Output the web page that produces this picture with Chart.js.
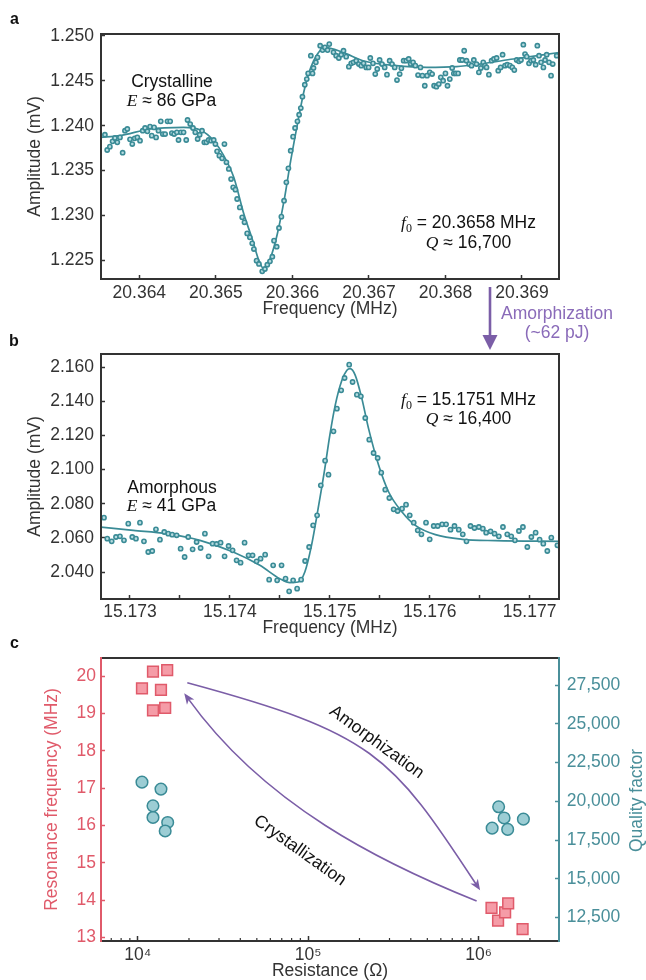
<!DOCTYPE html>
<html>
<head>
<meta charset="utf-8">
<script src="https://cdn.jsdelivr.net/npm/chart.js@4.4.1/dist/chart.umd.min.js"></script>
<style>
  body { margin: 0; background: #fff; }
  #wrap { position: relative; width: 646px; height: 980px; overflow: hidden; font-family: "Liberation Sans", Arial, sans-serif; }
  canvas { position: absolute; left: 0; }
  .tag { position: absolute; font-weight: bold; font-size: 16px; line-height: 16px; color: #111; }
  .step-label { position: absolute; left: 480px; width: 154px; text-align: center; font-size: 17.5px; line-height: 21px; color: #8a6bb9; }
  #step { position: absolute; left: 0; top: 0; pointer-events: none; }
</style>
</head>
<body>
<div id="wrap">
  <canvas id="chartA" width="646" height="320" style="top:0"></canvas>
  <canvas id="chartB" width="646" height="320" style="top:320px"></canvas>
  <canvas id="chartC" width="646" height="340" style="top:640px"></canvas>
  <svg id="step" width="646" height="980">
    <line x1="490" y1="287" x2="490" y2="338" stroke="#7b5ea7" stroke-width="2.6"/>
    <polygon points="482.5,335 497.5,335 490,350" fill="#7b5ea7"/>
  </svg>
  <div class="step-label" style="top:303.4px">Amorphization</div>
  <div class="step-label" style="top:321.7px">(~62 pJ)</div>
  <div class="tag" style="left:10px;top:10.5px">a</div>
  <div class="tag" style="left:9px;top:332.5px">b</div>
  <div class="tag" style="left:10px;top:634.5px">c</div>
</div>
<script>
// panel a: crystalline state, resonance dip
const aFreq = [
  20.363550, 20.363580, 20.363615, 20.363650, 20.363681, 20.363712, 20.363747, 20.363782, 20.363812, 20.363843,
  20.363878, 20.363908, 20.363939, 20.363974, 20.364009, 20.364044, 20.364075, 20.364105, 20.364140, 20.364162,
  20.364193, 20.364219, 20.364250, 20.364280, 20.364307, 20.364337, 20.364368, 20.364403, 20.364425, 20.364455,
  20.364490, 20.364512, 20.364543, 20.364578, 20.364613, 20.364630, 20.364665, 20.364701, 20.364731, 20.364762,
  20.364788, 20.364819, 20.364849, 20.364876, 20.364906, 20.364937, 20.364972, 20.364994, 20.365016, 20.365046,
  20.365081, 20.365112, 20.365138, 20.365169, 20.365199, 20.365226, 20.365256, 20.365278, 20.365313, 20.365344,
  20.365374, 20.365409, 20.365444, 20.365475, 20.365497, 20.365532, 20.365563, 20.365606, 20.365641, 20.365672,
  20.365707, 20.365738, 20.365760, 20.365795, 20.365825, 20.365856, 20.365891, 20.365921, 20.365948, 20.365978,
  20.366009, 20.366035, 20.366066, 20.366088, 20.366110, 20.366131, 20.366162, 20.366188, 20.366206, 20.366241,
  20.366263, 20.366276, 20.366307, 20.366328, 20.366363, 20.366394, 20.366425, 20.366460, 20.366482,
  20.366537, 20.366572, 20.366607, 20.366638, 20.366668, 20.366703, 20.366738, 20.366769, 20.366799, 20.366834,
  20.366869, 20.366900, 20.366930, 20.366965, 20.366996, 20.367018, 20.367053, 20.367083, 20.367109, 20.367140,
  20.367171, 20.367206, 20.367236, 20.367271, 20.367302, 20.367337, 20.367367, 20.367402, 20.367424, 20.367454,
  20.367489, 20.367520, 20.367546, 20.367577, 20.367607, 20.367642, 20.367673, 20.367699, 20.367730, 20.367760,
  20.367795, 20.367826, 20.367852, 20.367882, 20.367913, 20.367939, 20.367970, 20.368000, 20.368027, 20.368057,
  20.368088, 20.368110, 20.368136, 20.368166, 20.368188, 20.368219, 20.368245, 20.368275, 20.368310, 20.368341,
  20.368371, 20.368406, 20.368437, 20.368463, 20.368494, 20.368516, 20.368537, 20.368568, 20.368603, 20.368634,
  20.368669, 20.368690, 20.368721, 20.368747, 20.368778, 20.368808, 20.368843, 20.368874, 20.368900, 20.368931,
  20.368961, 20.368987, 20.369018, 20.369040, 20.369062, 20.369092, 20.369118, 20.369149, 20.369179, 20.369201,
  20.369223, 20.369249, 20.369280, 20.369302, 20.369323, 20.369354, 20.369380, 20.369402, 20.369454
];
const aAmp = [
  1.23900, 1.23730, 1.23767, 1.23826, 1.23863, 1.23815, 1.23870, 1.23700, 1.23944, 1.23963,
  1.23848, 1.23796, 1.23859, 1.23870, 1.23833, 1.23944, 1.23974, 1.23937, 1.23989, 1.23889,
  1.23981, 1.23870, 1.23944, 1.24048, 1.23907, 1.23907, 1.24048, 1.24048, 1.23918, 1.23907,
  1.23926, 1.23841, 1.23926, 1.23926, 1.23841, 1.24063, 1.24018, 1.23974, 1.23926, 1.23852,
  1.23899, 1.23944, 1.23815, 1.23815, 1.23841, 1.23833, 1.23841, 1.23796, 1.23715, 1.23667,
  1.23637, 1.23796, 1.23593, 1.23519, 1.23407, 1.23315, 1.23289, 1.23185, 1.23092, 1.22981,
  1.22926, 1.22803, 1.22759, 1.22692, 1.22629, 1.22500, 1.22463, 1.22381, 1.22407, 1.22455,
  1.22492, 1.22544, 1.22722, 1.22655, 1.22863, 1.22989, 1.23166, 1.23370, 1.23526, 1.23722,
  1.23878, 1.23974, 1.24048, 1.24122, 1.24196, 1.24322, 1.24455, 1.24518, 1.24581, 1.24778,
  1.24581, 1.24641, 1.24704, 1.24759, 1.24889, 1.24840, 1.24870, 1.24840, 1.24907,
  1.24815, 1.24778, 1.24752, 1.24789, 1.24833, 1.24767, 1.24656, 1.24693, 1.24704, 1.24722,
  1.24685, 1.24667, 1.24693, 1.24648, 1.24648, 1.24752, 1.24693, 1.24574, 1.24630, 1.24730,
  1.24685, 1.24648, 1.24567, 1.24722, 1.24685, 1.24648, 1.24507, 1.24574, 1.24637, 1.24722,
  1.24722, 1.24741, 1.24685, 1.24704, 1.24667, 1.24563, 1.24648, 1.24556, 1.24444, 1.24556,
  1.24593, 1.24574, 1.24444, 1.24433, 1.24463, 1.24537, 1.24500, 1.24581, 1.24444, 1.24518,
  1.24641, 1.24581, 1.24581, 1.24581, 1.24730, 1.24730, 1.24833, 1.24722, 1.24685, 1.24667,
  1.24730, 1.24685, 1.24593, 1.24641, 1.24704, 1.24667, 1.24648, 1.24567, 1.24722, 1.24741,
  1.24752, 1.24611, 1.24648, 1.24789, 1.24667, 1.24678, 1.24667, 1.24648, 1.24618, 1.24730,
  1.24715, 1.24730, 1.24900, 1.24796, 1.24767, 1.24693, 1.24722, 1.24730, 1.24678, 1.24889,
  1.24778, 1.24704, 1.24648, 1.24730, 1.24789, 1.24704, 1.24556, 1.24685, 1.24778
];
const aFitFreq = [
  20.363484, 20.363747, 20.364140, 20.364578, 20.364797, 20.364972, 20.365103, 20.365234, 20.365366, 20.365475,
  20.365563, 20.365628, 20.365716, 20.365803, 20.365891, 20.365978, 20.366066, 20.366153, 20.366241, 20.366328,
  20.366416, 20.366660, 20.366922, 20.367358, 20.367751, 20.368144, 20.368450, 20.368887, 20.369498
];
const aFitAmp = [
  1.23870, 1.23889, 1.23963, 1.23981, 1.23952, 1.23833, 1.23667, 1.23426, 1.23018, 1.22741,
  1.22500, 1.22407, 1.22537, 1.22796, 1.23166, 1.23611, 1.24018, 1.24389, 1.24648, 1.24796,
  1.24870, 1.24815, 1.24722, 1.24667, 1.24648, 1.24656, 1.24685, 1.24741, 1.24815
];
const aTicksX = [20.364, 20.365, 20.366, 20.367, 20.368, 20.369];
const aTicksY = [1.225, 1.230, 1.235, 1.240, 1.245, 1.250];

// panel b: amorphous state, resonance peak
const bFreq = [
  15.172740, 15.172773, 15.172817, 15.172860, 15.172900, 15.172940, 15.172983, 15.173023, 15.173060, 15.173100,
  15.173140, 15.173183, 15.173223, 15.173260, 15.173300, 15.173343, 15.173383, 15.173423, 15.173467, 15.173507,
  15.173547, 15.173583, 15.173627, 15.173667, 15.173707, 15.173750, 15.173787, 15.173827, 15.173867, 15.173907,
  15.173947, 15.173987, 15.174027, 15.174067, 15.174107, 15.174147, 15.174187, 15.174227, 15.174267, 15.174307,
  15.174353, 15.174393, 15.174433, 15.174473, 15.174517, 15.174557, 15.174593, 15.174633, 15.174673, 15.174713,
  15.174753, 15.174793, 15.174833, 15.174873, 15.174910, 15.174953, 15.174987,
  15.175037, 15.175071, 15.175114, 15.175148, 15.175194, 15.175228, 15.175271, 15.175311, 15.175355, 15.175395,
  15.175438, 15.175479, 15.175515, 15.175555, 15.175596, 15.175639, 15.175679, 15.175723, 15.175763, 15.175800,
  15.175840, 15.175880, 15.175917, 15.175963, 15.176000, 15.176040, 15.176080, 15.176124, 15.176164, 15.176208,
  15.176248, 15.176291, 15.176331, 15.176368, 15.176408, 15.176448, 15.176492, 15.176532, 15.176565, 15.176609,
  15.176649, 15.176692, 15.176733, 15.176776, 15.176816, 15.176853, 15.176893, 15.176933, 15.176977, 15.177017,
  15.177060, 15.177100, 15.177137, 15.177177, 15.177217, 15.177278
];
const bAmp = [
  2.07182, 2.05952, 2.05796, 2.06050, 2.06089, 2.05855, 2.06830, 2.06050, 2.05952, 2.06889,
  2.05796, 2.05172, 2.05230, 2.06499, 2.05894, 2.06343, 2.06245, 2.06187, 2.06148, 2.05367,
  2.04879, 2.06050, 2.05328, 2.05757, 2.05406, 2.06245, 2.04918, 2.05660, 2.05640, 2.05718,
  2.04918, 2.05523, 2.05269, 2.04684, 2.04548, 2.05718, 2.04977, 2.04977, 2.04626, 2.04782,
  2.05016, 2.03553, 2.04392, 2.03514, 2.04392, 2.03611, 2.02870, 2.03514, 2.03026, 2.03553,
  2.04645, 2.05465, 2.06733, 2.07318, 2.09074, 2.10518, 2.09698,
  2.12235, 2.13561, 2.14634, 2.15356, 2.16137, 2.15122, 2.14381, 2.14283, 2.13015, 2.11747,
  2.10966, 2.10674, 2.09815, 2.08821, 2.08333, 2.07669, 2.07572, 2.07708, 2.07942, 2.07318,
  2.06889, 2.06440, 2.06206, 2.06889, 2.05913, 2.06694, 2.06694, 2.06791, 2.06791, 2.06479,
  2.06694, 2.06479, 2.06206, 2.05796, 2.06694, 2.06577, 2.06635, 2.06538, 2.06304, 2.06382,
  2.06245, 2.06089, 2.06635, 2.06206, 2.06089, 2.05855, 2.06401, 2.06635, 2.05465, 2.06050,
  2.06304, 2.05894, 2.05660, 2.05230, 2.06011, 2.05562
];
const bFitFreq = [
  15.172700, 15.173033, 15.173367, 15.173700, 15.174033, 15.174300, 15.174500, 15.174600, 15.174683, 15.174750,
  15.174817, 15.174883, 15.174950, 15.175000, 15.175054, 15.175121, 15.175171, 15.175204, 15.175255, 15.175321,
  15.175388, 15.175489, 15.175589, 15.175723, 15.175856, 15.176057, 15.176325, 15.176659, 15.177300
];
const bFitAmp = [
  2.06635, 2.06440, 2.06245, 2.05855, 2.05172, 2.04392, 2.03611, 2.03377, 2.03416, 2.04001,
  2.05562, 2.07708, 2.10050, 2.11999, 2.13756, 2.15220, 2.15805, 2.15903, 2.15512, 2.14147,
  2.12391, 2.10245, 2.08684, 2.07513, 2.06733, 2.06187, 2.05913, 2.05835, 2.05796
];
const bTicksX = [15.173, 15.1735, 15.174, 15.1745, 15.175, 15.1755, 15.176, 15.1765, 15.177];
const bTicksY = [2.040, 2.060, 2.080, 2.100, 2.120, 2.140, 2.160];

// panel c: resonance frequency and Q versus resistance
const crysFreqR = [10600, 12300, 14900, 13700, 12300, 14500];
const crysFreq = [19.67, 20.12, 20.16, 19.63, 19.08, 19.15];
const crysQR = [10600, 13700, 12300, 12300, 15000, 14500];
const crysQ = [21240, 20790, 19710, 18960, 18640, 18090];
const amorFreqR = [1190000, 1300000, 1430000, 1490000, 1810000];
const amorFreq = [13.79, 13.45, 13.67, 13.91, 13.22];
const amorQR = [1310000, 1410000, 1200000, 1480000, 1830000];
const amorQ = [19650, 18930, 18270, 18190, 18850];
const cTicksX = [1e4, 1e5, 1e6];
const cTickLabelsX = ['10⁴', '10⁵', '10⁶'];
const cTicksF = [13, 14, 15, 16, 17, 18, 19, 20];
const cTicksQ = [12500, 15000, 17500, 20000, 22500, 25000, 27500];

const DARK = '#333333';
const TEAL = '#3a8b96';
const DOT_FILL = '#b6dbe0';
const PINK = '#e05a6a';
const PINK_FILL = '#f59ca7';
const TEAL_AXIS = '#4a8f9a';
const CIRCLE_FILL = '#9ccdd4';
const PURPLE = '#7b5ea7';
const SANS = '"Liberation Sans", Arial, sans-serif';
const F_SANS = '17.5px ' + SANS;
const F_ITAL = 'italic 17.5px "Liberation Serif", serif';
const F_SUB = '12px "Liberation Serif", serif';

Chart.defaults.font.family = SANS;
Chart.defaults.font.size = 17.5;
Chart.defaults.color = DARK;

const xy = (xs, ys) => xs.map((x, i) => ({ x, y: ys[i] }));

function axis(o) {
  return {
    type: o.type || 'linear',
    position: o.position,
    min: o.min,
    max: o.max,
    afterBuildTicks: s => { s.ticks = o.ticks.map(v => ({ value: v })); },
    afterFit: s => {
      if (s.isHorizontal()) s.height = o.size; else s.width = o.size;
      s.paddingTop = s.paddingBottom = s.paddingLeft = s.paddingRight = 0;
    },
    border: { display: false },
    grid: { drawOnChartArea: false, tickLength: o.tickLength || -4, tickColor: o.color || DARK, tickWidth: 1.5 },
    ticks: { color: o.color || DARK, padding: o.pad, autoSkip: false, maxRotation: 0, callback: o.label },
    title: o.title
      ? { display: true, text: o.title, color: o.color || DARK, padding: o.titlePad }
      : { display: false }
  };
}

// mixed-font text line, centred on x, baseline at y
function richText(ctx, parts, x, y) {
  let w = 0;
  parts.forEach(p => { ctx.font = p.font; p.w = ctx.measureText(p.text).width; w += p.w; });
  let cx = x - w / 2;
  ctx.textAlign = 'left';
  ctx.textBaseline = 'alphabetic';
  parts.forEach(p => { ctx.font = p.font; ctx.fillText(p.text, cx, y + (p.dy || 0)); cx += p.w; });
}

const boxFrame = {
  id: 'boxFrame',
  afterDraw(chart) {
    const { ctx, chartArea: a } = chart;
    ctx.save();
    ctx.strokeStyle = DARK;
    ctx.lineWidth = 2;
    ctx.strokeRect(a.left, a.top, a.right - a.left, a.bottom - a.top);
    ctx.restore();
  }
};

function notes(lines) {
  return {
    id: 'notes',
    afterDraw(chart) {
      const ctx = chart.ctx;
      ctx.save();
      ctx.fillStyle = '#111';
      lines.forEach(l => richText(ctx, l.parts, l.x, l.y));
      ctx.restore();
    }
  };
}

function spectrum(id, o) {
  return new Chart(document.getElementById(id), {
    type: 'scatter',
    data: {
      datasets: [
        {
          data: xy(o.fitX, o.fitY), showLine: true, borderColor: TEAL, borderWidth: 1.7,
          pointRadius: 0, tension: 0.4, cubicInterpolationMode: 'monotone', order: 2
        },
        {
          data: xy(o.x, o.y), pointRadius: 2.1, borderWidth: 1.6,
          borderColor: TEAL, backgroundColor: DOT_FILL, order: 1
        }
      ]
    },
    options: {
      responsive: false, animation: false, devicePixelRatio: 1,
      layout: { padding: { left: 0, top: 34, right: 87, bottom: 0 } },
      plugins: { legend: { display: false }, tooltip: { enabled: false } },
      scales: {
        x: axis({
          min: o.xMin, max: o.xMax, ticks: o.ticksX, size: 41, pad: o.xPad,
          label: v => Math.abs(v * 1000 - Math.round(v * 1000)) < 1e-6 ? v.toFixed(3) : '',
          title: 'Frequency (MHz)', titlePad: { top: 0, bottom: o.titleBottom }
        }),
        y: axis({
          min: o.yMin, max: o.yMax, ticks: o.ticksY, size: 101, pad: 11,
          label: v => v.toFixed(3),
          title: 'Amplitude (mV)', titlePad: { top: 25, bottom: 0 }
        })
      }
    },
    plugins: [boxFrame, notes(o.notes)]
  });
}

spectrum('chartA', {
  x: aFreq, y: aAmp, fitX: aFitFreq, fitY: aFitAmp,
  xMin: 20.363499, xMax: 20.369484, yMin: 1.22296, yMax: 1.25019,
  ticksX: aTicksX, ticksY: aTicksY, xPad: 7.5, titleBottom: 0.5,
  notes: [
    { x: 172, y: 87.3, parts: [{ text: 'Crystalline', font: F_SANS }] },
    { x: 171.5, y: 106.3, parts: [{ text: 'E', font: F_ITAL }, { text: ' ≈ 86 GPa', font: F_SANS }] },
    { x: 468.5, y: 228.3, parts: [{ text: 'f', font: F_ITAL }, { text: '0', font: F_SUB, dy: 4 }, { text: ' = 20.3658 MHz', font: F_SANS }] },
    { x: 468.5, y: 248.3, parts: [{ text: 'Q', font: F_ITAL }, { text: ' ≈ 16,700', font: F_SANS }] }
  ]
});

spectrum('chartB', {
  x: bFreq, y: bAmp, fitX: bFitFreq, fitY: bFitAmp,
  xMin: 15.17271, xMax: 15.177294, yMin: 2.02421, yMax: 2.16761,
  ticksX: bTicksX, ticksY: bTicksY, xPad: 7, titleBottom: 1,
  notes: [
    { x: 172, y: 172.7, parts: [{ text: 'Amorphous', font: F_SANS }] },
    { x: 171.5, y: 191.3, parts: [{ text: 'E', font: F_ITAL }, { text: ' ≈ 41 GPa', font: F_SANS }] },
    { x: 468.5, y: 84.7, parts: [{ text: 'f', font: F_ITAL }, { text: '0', font: F_SUB, dy: 4 }, { text: ' = 15.1751 MHz', font: F_SANS }] },
    { x: 468.5, y: 103.7, parts: [{ text: 'Q', font: F_ITAL }, { text: ' ≈ 16,400', font: F_SANS }] }
  ]
});

// switching arrows, control points given as (resistance, frequency)
const amorphPath = { r: [19550, 241000, 305000, 1020000], f: [19.82, 18.47, 17.92, 14.26] };
const crystPath = { r: [973000, 268000, 55700, 18750], f: [13.976, 15.0, 16.54, 19.54] };

function drawArrow(ctx, path, sx, sy) {
  const p = path.r.map((r, i) => [sx.getPixelForValue(r), sy.getPixelForValue(path.f[i])]);
  const [p0, p1, p2, p3] = p;
  const dx = p3[0] - p2[0], dy = p3[1] - p2[1], len = Math.hypot(dx, dy);
  const ux = dx / len, uy = dy / len;
  const head = 11, half = 4.5;
  ctx.beginPath();
  ctx.moveTo(p0[0], p0[1]);
  ctx.bezierCurveTo(p1[0], p1[1], p2[0], p2[1], p3[0] - ux * 7, p3[1] - uy * 7);
  ctx.stroke();
  ctx.beginPath();
  ctx.moveTo(p3[0], p3[1]);
  ctx.lineTo(p3[0] - ux * head - uy * half, p3[1] - uy * head + ux * half);
  ctx.lineTo(p3[0] - ux * head * 0.72, p3[1] - uy * head * 0.72);
  ctx.lineTo(p3[0] - ux * head + uy * half, p3[1] - uy * head - ux * half);
  ctx.closePath();
  ctx.fill();
}

function rotatedText(ctx, text, x, y, deg) {
  ctx.save();
  ctx.translate(x, y);
  ctx.rotate(deg * Math.PI / 180);
  ctx.textAlign = 'center';
  ctx.textBaseline = 'middle';
  ctx.fillText(text, 0, 0);
  ctx.restore();
}

const cExtras = {
  id: 'cExtras',
  afterDatasetsDraw(chart) {
    const { ctx, scales } = chart;
    ctx.save();
    ctx.strokeStyle = PURPLE;
    ctx.fillStyle = PURPLE;
    ctx.lineWidth = 1.6;
    drawArrow(ctx, amorphPath, scales.x, scales.y);
    drawArrow(ctx, crystPath, scales.x, scales.y);
    ctx.fillStyle = '#111';
    ctx.font = F_SANS;
    rotatedText(ctx, 'Amorphization', 376.7, 102.3, 36);
    rotatedText(ctx, 'Crystallization', 300, 210.7, 35.5);
    ctx.fillStyle = TEAL_AXIS;
    rotatedText(ctx, 'Quality factor', 636.7, 160.5, -90);
    ctx.restore();
  },
  afterDraw(chart) {
    const { ctx, chartArea: a, scales } = chart;
    ctx.save();
    // minor decade ticks on the resistance axis
    ctx.strokeStyle = DARK;
    ctx.lineWidth = 1.2;
    [1e3, 1e4, 1e5, 1e6].forEach(d => {
      for (let m = 2; m <= 9; m++) {
        const v = m * d;
        if (v < scales.x.min || v > scales.x.max) continue;
        const px = scales.x.getPixelForValue(v);
        ctx.beginPath();
        ctx.moveTo(px, a.bottom);
        ctx.lineTo(px, a.bottom - 3);
        ctx.stroke();
      }
    });
    ctx.lineWidth = 2;
    const edge = (c, x1, y1, x2, y2) => {
      ctx.strokeStyle = c;
      ctx.beginPath(); ctx.moveTo(x1, y1); ctx.lineTo(x2, y2); ctx.stroke();
    };
    edge(DARK, a.left, a.top, a.right, a.top);
    edge(DARK, a.left, a.bottom, a.right, a.bottom);
    edge(PINK, a.left, a.top - 1, a.left, a.bottom + 1);
    edge(TEAL_AXIS, a.right, a.top - 1, a.right, a.bottom + 1);
    ctx.restore();
  }
};

const squareStyle = {
  yAxisID: 'y', pointStyle: 'rect', pointRadius: 7.6, borderWidth: 1.5,
  borderColor: PINK, backgroundColor: PINK_FILL
};
const circleStyle = {
  yAxisID: 'y2', pointStyle: 'circle', pointRadius: 5.8, borderWidth: 1.5,
  borderColor: TEAL, backgroundColor: CIRCLE_FILL
};

new Chart(document.getElementById('chartC'), {
  type: 'scatter',
  data: {
    datasets: [
      Object.assign({ data: xy(crysFreqR, crysFreq) }, squareStyle),
      Object.assign({ data: xy(amorFreqR, amorFreq) }, squareStyle),
      Object.assign({ data: xy(crysQR, crysQ) }, circleStyle),
      Object.assign({ data: xy(amorQR, amorQ) }, circleStyle)
    ]
  },
  options: {
    responsive: false, animation: false, devicePixelRatio: 1,
    layout: { padding: { left: 0, top: 18, right: 0, bottom: 0 } },
    plugins: { legend: { display: false }, tooltip: { enabled: false } },
    scales: {
      x: axis({
        type: 'logarithmic', min: 6095, max: 2960000, ticks: cTicksX, size: 39, pad: 8.5,
        tickLength: -5, label: v => cTickLabelsX[cTicksX.indexOf(v)],
        title: 'Resistance (Ω)', titlePad: { top: 0, bottom: -1.5 }
      }),
      y: axis({
        position: 'left', min: 12.904, max: 20.483, ticks: cTicksF, size: 101, pad: 9,
        color: PINK, label: v => String(v),
        title: 'Resonance frequency (MHz)', titlePad: { top: 42, bottom: 0 }
      }),
      y2: axis({
        position: 'right', min: 10988, max: 29251, ticks: cTicksQ, size: 87, pad: 11.7,
        color: TEAL_AXIS, label: v => v.toLocaleString('en-US')
      })
    }
  },
  plugins: [cExtras]
});
</script>
</body>
</html>
